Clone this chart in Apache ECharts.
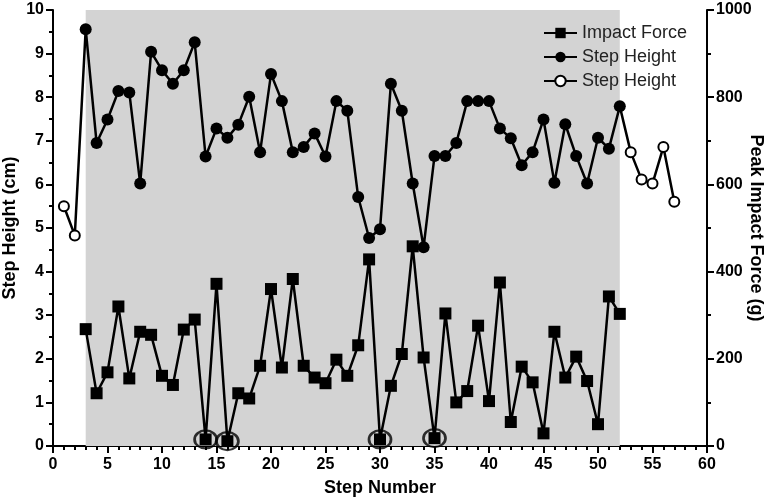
<!DOCTYPE html>
<html>
<head>
<meta charset="utf-8">
<script src="https://cdn.jsdelivr.net/npm/echarts@6/dist/echarts.min.js"></script>
<style>
  html, body { margin: 0; padding: 0; background: #fff; }
  #main { width: 774px; height: 503px; }
</style>
</head>
<body>
<div id="main"></div>
<script>
// step height (cm), filled circles, steps 3..52
const heightStart = 3
const heightValues = [9.56, 6.95, 7.49, 8.14, 8.11, 6.02, 9.04, 8.62, 8.31, 8.62,
  9.26, 6.64, 7.28, 7.07, 7.37, 8.01, 6.74, 8.53, 7.91, 6.74,
  6.86, 7.17, 6.64, 7.91, 7.69, 5.71, 4.77, 4.97, 8.31, 7.69,
  6.02, 4.56, 6.65, 6.65, 6.95, 7.91, 7.91, 7.91, 7.28, 7.06,
  6.44, 6.74, 7.49, 6.04, 7.38, 6.65, 6.02, 7.07, 6.82, 7.79]
// step height, open circles (outside the shaded region)
const openBefore = [[1, 5.50], [2, 4.83]]
const openAfter = [[53, 6.74], [54, 6.11], [55, 6.02], [56, 6.86], [57, 5.60]]
// peak impact force (g), squares, steps 3..52
const forceValues = [268, 121, 169, 320, 155, 262, 255, 161, 140, 267,
  290, 15, 372, 11, 121, 109, 184, 360, 180, 383,
  184, 157, 144, 198, 161, 231, 428, 15, 138, 211,
  458, 203, 18, 304, 100, 126, 276, 103, 375, 55,
  182, 146, 29, 262, 157, 205, 149, 50, 343, 303]
const circledSteps = [14, 16, 30, 35]
const shadeRange = [3, 52]

const heightData = heightValues.map((v, i) => [heightStart + i, v])
const forceData = forceValues.map((v, i) => [heightStart + i, v])
const first = heightData[0]
const last = heightData[heightData.length - 1]
const openData = [
  ...openBefore,
  { value: first, symbol: 'none' },
  '-',
  { value: last, symbol: 'none' },
  ...openAfter
]
const circledData = circledSteps.map(s => [s, forceValues[s - heightStart]])

const font = 'Liberation Sans, Arial, sans-serif'
const axisLine = { show: true, lineStyle: { color: '#000', width: 2 } }
const labelStyle = { color: '#000', fontFamily: font, fontWeight: 'bold', fontSize: 16 }
const nameStyle = { color: '#000', fontFamily: font, fontWeight: 'bold', fontSize: 18 }
const tick = { length: 7, lineStyle: { color: '#000', width: 2 } }
const minor = (n) => ({ show: true, splitNumber: n, length: 4, lineStyle: { color: '#000', width: 2 } })

const myChart = echarts.init(document.getElementById('main'))
myChart.setOption({
  animation: false,
  grid: { left: 53, right: 67, top: 10, bottom: 57, outerBoundsMode: 'none' },
  legend: {
    left: 538,
    top: 19,
    orient: 'vertical',
    itemWidth: 33,
    itemHeight: 13,
    itemGap: 6,
    textStyle: { color: '#222', fontFamily: font, fontSize: 18 },
    data: ['Impact Force', 'Step Height', 'Step Height ']
  },
  xAxis: {
    type: 'value',
    min: 0,
    max: 60,
    interval: 5,
    name: 'Step Number',
    nameLocation: 'middle',
    nameGap: 33,
    nameTextStyle: nameStyle,
    axisLine: axisLine,
    axisTick: tick,
    minorTick: minor(5),
    axisLabel: Object.assign({ margin: 11 }, labelStyle),
    splitLine: { show: false }
  },
  yAxis: [{
    type: 'value',
    min: 0,
    max: 10,
    interval: 1,
    name: 'Step Height (cm)',
    nameLocation: 'middle',
    nameGap: 34,
    nameMoveOverlap: false,
    nameTextStyle: nameStyle,
    axisLine: axisLine,
    axisTick: tick,
    minorTick: minor(2),
    axisLabel: Object.assign({ margin: 9 }, labelStyle),
    splitLine: { show: false }
  }, {
    type: 'value',
    position: 'right',
    min: 0,
    max: 1000,
    interval: 200,
    name: 'Peak Impact Force (g)',
    nameLocation: 'middle',
    nameGap: 40,
    nameRotate: -90,
    nameMoveOverlap: false,
    nameTextStyle: nameStyle,
    axisLine: axisLine,
    axisTick: tick,
    minorTick: minor(2),
    axisLabel: Object.assign({ margin: 9, formatter: v => String(v) }, labelStyle),
    splitLine: { show: false }
  }],
  series: [{
    name: 'Step Height ',
    type: 'line',
    z: 2,
    data: openData,
    symbol: 'circle',
    symbolSize: 10,
    connectNulls: false,
    lineStyle: { color: '#000', width: 2.5 },
    itemStyle: { color: '#fff', borderColor: '#000', borderWidth: 2 },
    markArea: {
      silent: true,
      itemStyle: { color: '#d3d3d3' },
      data: [[{ xAxis: shadeRange[0] }, { xAxis: shadeRange[1] }]]
    }
  }, {
    name: 'Step Height',
    type: 'line',
    z: 3,
    data: heightData,
    symbol: 'circle',
    symbolSize: 12,
    lineStyle: { color: '#000', width: 2.5 },
    itemStyle: { color: '#000' }
  }, {
    name: 'Impact Force',
    type: 'line',
    yAxisIndex: 1,
    z: 3,
    data: forceData,
    symbol: 'rect',
    symbolSize: 12,
    lineStyle: { color: '#000', width: 2.5 },
    itemStyle: { color: '#000' }
  }, {
    name: 'circled',
    type: 'scatter',
    yAxisIndex: 1,
    z: 4,
    data: circledData,
    symbol: 'circle',
    symbolSize: [22, 18],
    itemStyle: { color: 'rgba(0,0,0,0)', borderColor: '#000', borderWidth: 2.5 }
  }]
})
window.addEventListener('resize', function () {
  myChart.resize()
})
</script>
</body>
</html>
